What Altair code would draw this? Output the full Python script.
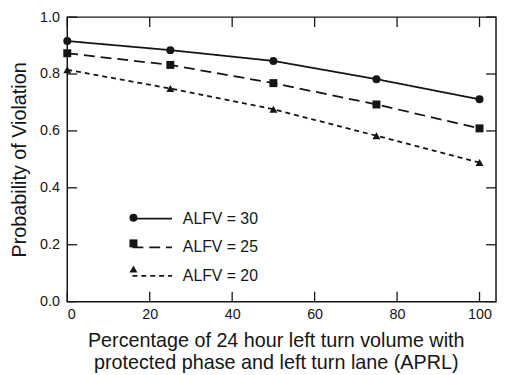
import altair as alt
import pandas as pd

# ---- data ----
aprl = [0, 25, 50, 75, 100]
alfv30 = [0.916, 0.884, 0.846, 0.782, 0.711]
alfv25 = [0.873, 0.832, 0.768, 0.693, 0.609]
alfv20 = [0.815, 0.749, 0.676, 0.583, 0.489]
series_labels = ["ALFV = 30", "ALFV = 25", "ALFV = 20"]
x_ticks = [0, 20, 40, 60, 80, 100]
y_ticks = [0.0, 0.2, 0.4, 0.6, 0.8, 1.0]
x_title = ["Percentage of 24 hour left turn volume with",
           "protected phase and left turn lane (APRL)"]
y_title = "Probability of Violation"

rows = []
for lab, vals in zip(series_labels, [alfv30, alfv25, alfv20]):
    for xv, yv in zip(aprl, vals):
        rows.append({"x": xv, "y": yv, "series": lab, "key": lab})
df = pd.DataFrame(rows)
xt = pd.DataFrame({"t": x_ticks})
yt = pd.DataFrame({"t": y_ticks})

INK = "#151515"
FONT = "Liberation Sans"
W, H = 434, 288
TICK = 10

xscale = alt.Scale(domain=[0, 104], nice=False, zero=False)
yscale = alt.Scale(domain=[0, 1], nice=False)

xaxis = alt.Axis(values=x_ticks, ticks=False, domain=False, grid=False,
                 labelPadding=6, labelFontSize=14.5, labelColor=INK, labelFont=FONT,
                 title=x_title, titleFontSize=20, titleFontWeight="normal",
                 titleColor=INK, titleFont=FONT, titlePadding=10, titleX=211,
                 titleLineHeight=22)
yaxis = alt.Axis(values=y_ticks, format=".1f", ticks=False, domain=False, grid=False,
                 labelPadding=8, labelFontSize=14.5, labelColor=INK, labelFont=FONT,
                 title=y_title, titleFontSize=20, titleFontWeight="normal",
                 titleColor=INK, titleFont=FONT, titlePadding=10)

lines = alt.Chart(df).mark_line(color=INK, strokeWidth=1.8).encode(
    x=alt.X("x:Q", scale=xscale, axis=xaxis),
    y=alt.Y("y:Q", scale=yscale, axis=yaxis),
    strokeDash=alt.StrokeDash(
        "series:N",
        scale=alt.Scale(domain=series_labels, range=[[1, 0], [11, 6], [5, 4]]),
        legend=alt.Legend(orient="none", legendX=65, legendY=183, title=None,
                          symbolType="stroke", symbolSize=1600,
                          symbolStrokeWidth=1.8, symbolStrokeColor=INK,
                          labelFontSize=16, labelFont=FONT, labelColor=INK,
                          labelOffset=10, rowPadding=-14, padding=0),
    ),
)

points = alt.Chart(df).mark_point(filled=True, color=INK, opacity=1, size=65).encode(
    x=alt.X("x:Q", scale=xscale, axis=xaxis),
    y=alt.Y("y:Q", scale=yscale, axis=yaxis),
    shape=alt.Shape(
        "key:N",
        scale=alt.Scale(domain=series_labels, range=["circle", "square", "triangle-up"]),
        legend=alt.Legend(orient="none", legendX=59, legendY=195, title=None,
                          labelExpr="''", symbolSize=65,
                          symbolFillColor=INK, symbolStrokeColor=INK, symbolOpacity=1,
                          labelFontSize=16, labelFont=FONT, rowPadding=10, padding=0),
    ),
)

tick_bottom = alt.Chart(xt).mark_rule(color=INK, strokeWidth=1.3).encode(
    x=alt.X("t:Q", scale=xscale, axis=xaxis), y=alt.value(H), y2=alt.value(H - TICK))
tick_top = alt.Chart(xt).mark_rule(color=INK, strokeWidth=1.3).encode(
    x=alt.X("t:Q", scale=xscale, axis=xaxis), y=alt.value(0), y2=alt.value(TICK))
tick_left = alt.Chart(yt).mark_rule(color=INK, strokeWidth=1.3).encode(
    y=alt.Y("t:Q", scale=yscale, axis=yaxis), x=alt.value(0), x2=alt.value(TICK))
tick_right = alt.Chart(yt).mark_rule(color=INK, strokeWidth=1.3).encode(
    y=alt.Y("t:Q", scale=yscale, axis=yaxis), x=alt.value(W), x2=alt.value(W - TICK))

chart = alt.layer(lines, points, tick_bottom, tick_top, tick_left, tick_right).properties(
    width=W, height=H,
    autosize=alt.AutoSizeParams(type="none"),
    padding={"left": 60, "top": 7, "right": 1, "bottom": 70},
).configure_view(stroke=INK, strokeWidth=1.5).resolve_scale(
    strokeDash="independent", shape="independent")

chart.save("out.html", embed_options={"renderer": "svg", "actions": False})
